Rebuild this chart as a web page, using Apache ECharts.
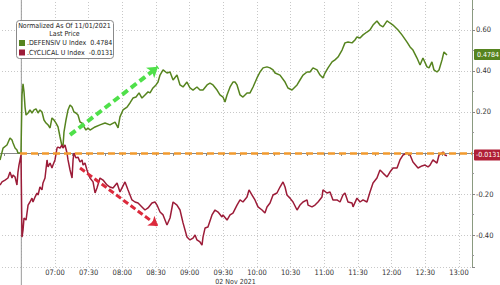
<!DOCTYPE html>
<html><head><meta charset="utf-8">
<script src="https://cdn.jsdelivr.net/npm/echarts@6/dist/echarts.min.js"></script>
<style>html,body{margin:0;padding:0;background:#fff}#c{width:500px;height:285px}</style>
</head><body><div id="c"></div>
<script>
// time in minutes after midnight (02 Nov 2021), values normalized
const defTimes = [371.0,373.7,377.2,379.9,381.7,382.6,384.4,386.1,387.0,388.8,389.7,390.6,391.5,392.4,393.3,394.2,396.0,397.7,399.5,401.3,403.1,404.9,406.6,408.4,410.2,412.0,413.8,415.6,417.3,419.1,420.9,422.7,424.5,426.2,427.1,428.0,429.8,431.6,433.4,435.2,436.9,438.7,440.5,442.3,444.1,445.9,447.6,449.4,451.2,455.7,460.1,464.6,469.0,473.5,475.3,476.2,477.9,480.6,484.2,486.8,489.5,492.2,494.9,497.5,500.2,502.9,504.7,507.3,510.0,511.8,513.6,516.3,519.8,522.5,525.2,528.7,531.4,534.1,537.6,540.3,543.0,546.5,549.2,551.9,555.5,558.1,560.8,564.4,567.0,569.7,571.5,573.3,576.0,578.6,580.4,582.2,584.9,587.5,591.1,593.8,596.5,600.0,602.7,605.4,608.9,611.6,614.3,616.1,620.5,625.0,627.6,631.2,635.7,638.3,641.0,644.6,647.2,649.9,653.5,656.2,658.8,660.6,663.3,666.9,669.5,672.2,675.8,678.4,681.1,684.7,687.3,689.1,691.8,694.5,698.0,700.7,703.4,706.9,709.6,712.3,715.9,718.5,721.2,725.7,729.2,733.7,736.4,739.0,742.6,745.3,747.9,751.5,753.3,755.9,757.7,760.4,762.2,764.9,766.6,769.3];
const defValues = [-0.034,0.024,0.039,0.073,0.063,0.049,0.024,0.015,0,0,0,0.283,0.337,0.298,0.224,0.185,0.195,0.210,0.195,0.210,0.215,0.195,0.210,0.200,0.161,0.146,0.137,0.122,0.171,0.161,0.146,0.127,0.078,0.034,0.029,0.102,0.161,0.210,0.234,0.224,0.200,0.195,0.185,0.151,0.146,0.127,0.112,0.122,0.112,0.127,0.137,0.146,0.137,0.151,0.132,0.122,0.176,0.210,0.224,0.244,0.268,0.273,0.293,0.268,0.283,0.298,0.293,0.317,0.332,0.346,0.380,0.405,0.390,0.395,0.356,0.380,0.332,0.322,0.346,0.317,0.307,0.322,0.307,0.307,0.332,0.341,0.332,0.307,0.283,0.273,0.249,0.283,0.322,0.346,0.346,0.332,0.283,0.273,0.293,0.293,0.322,0.366,0.395,0.415,0.420,0.415,0.405,0.390,0.380,0.346,0.317,0.307,0.332,0.356,0.380,0.395,0.395,0.415,0.405,0.380,0.366,0.390,0.415,0.444,0.454,0.468,0.502,0.537,0.541,0.537,0.551,0.566,0.561,0.576,0.590,0.600,0.624,0.644,0.624,0.615,0.644,0.634,0.624,0.600,0.576,0.541,0.517,0.502,0.463,0.429,0.463,0.420,0.415,0.444,0.405,0.395,0.405,0.454,0.493,0.478];
const cycTimes = [371.0,372.8,375.5,378.1,379.9,381.7,382.6,384.4,386.1,387.0,387.9,389.7,390.6,391.5,392.4,394.2,396.0,397.7,399.5,400.4,402.2,404.0,404.9,406.6,408.4,409.3,411.1,412.9,413.8,415.6,417.3,418.2,420.0,421.8,422.7,424.5,426.2,427.1,428.9,430.7,431.6,433.4,435.2,436.1,436.9,438.7,440.5,442.3,444.1,445.0,446.7,448.5,449.4,451.2,453.9,455.7,457.4,460.1,462.8,466.3,469.0,471.7,475.3,477.9,482.4,485.1,488.6,491.3,494.0,497.5,500.2,502.9,506.4,509.1,510.9,513.6,516.3,519.8,522.5,525.2,528.7,531.4,534.1,537.6,540.3,543.0,544.8,546.5,549.2,551.0,551.9,553.7,556.3,559.9,562.6,565.3,568.8,569.7,573.3,576.0,578.6,582.2,584.9,587.5,591.1,592.9,595.6,598.2,600.9,604.5,607.1,608.9,611.6,614.3,617.8,620.5,623.2,625.0,626.7,629.4,632.1,635.7,638.3,641.0,644.6,645.5,649.0,651.7,654.4,657.9,658.8,662.4,665.1,667.7,671.3,674.0,676.6,678.4,681.1,684.7,685.6,689.1,691.8,694.5,698.0,700.7,703.4,706.9,709.6,712.3,715.9,718.5,721.2,724.8,727.4,730.1,733.7,736.4,739.0,743.5,747.0,749.7,752.4,754.2,756.8,760.4,762.2,764.9,765.8,767.5,769.3];
const cycValues = [-0.156,-0.141,-0.132,-0.122,-0.093,-0.122,-0.107,-0.117,-0.156,-0.093,-0.059,-0.010,-0.410,-0.376,-0.317,-0.327,-0.254,-0.239,-0.220,-0.239,-0.215,-0.195,-0.205,-0.166,-0.180,-0.146,-0.122,-0.034,-0.068,-0.049,-0.073,-0.059,-0.034,0.024,0.029,0.024,0.039,0.024,0.039,0,-0.034,-0.083,-0.122,-0.034,0,-0.024,-0.020,-0.044,-0.034,-0.059,-0.049,-0.083,-0.098,-0.122,-0.141,-0.195,-0.171,-0.122,-0.132,-0.156,-0.166,-0.171,-0.146,-0.190,-0.141,-0.180,-0.229,-0.239,-0.244,-0.263,-0.278,-0.268,-0.244,-0.239,-0.254,-0.288,-0.302,-0.351,-0.317,-0.239,-0.254,-0.278,-0.341,-0.410,-0.424,-0.415,-0.400,-0.424,-0.434,-0.449,-0.410,-0.366,-0.361,-0.302,-0.278,-0.288,-0.312,-0.302,-0.327,-0.302,-0.293,-0.254,-0.229,-0.239,-0.215,-0.180,-0.205,-0.229,-0.263,-0.278,-0.293,-0.263,-0.244,-0.205,-0.195,-0.166,-0.141,-0.166,-0.205,-0.220,-0.239,-0.278,-0.254,-0.239,-0.229,-0.254,-0.263,-0.254,-0.239,-0.215,-0.180,-0.195,-0.190,-0.229,-0.229,-0.239,-0.205,-0.195,-0.239,-0.244,-0.263,-0.220,-0.239,-0.229,-0.239,-0.190,-0.146,-0.122,-0.083,-0.098,-0.117,-0.093,-0.073,-0.073,-0.034,-0.010,0,-0.010,-0.044,-0.073,-0.063,-0.059,-0.068,-0.059,-0.034,-0.049,-0.010,0,0.005,-0.010,-0.013];
const seriesNames = ['.DEFENSIV U Index', '.CYCLICAL U Index'];
const lastPrices = [0.4784, -0.0131];
const xTickLabels = ['07:00','07:30','08:00','08:30','09:00','09:30','10:00','10:30','11:00','11:30','12:00','12:30','13:00'];
const yTickLabels = ['-0.40','-0.20','0.20','0.40','0.60'];
const dayStart = 390;          // 06:30 session divider
const baseLevel = 0;           // normalization level
const greenArrow = [[433.4, 0.088], [511.8, 0.42]];
const redArrow = [[442.3, -0.073], [511.8, -0.356]];

const FONT = "'Liberation Sans Narrow','DejaVu Sans Condensed','Liberation Sans',sans-serif";
const GREEN = '#56841f', RED = '#9c1c38';
const pad = n => (n < 10 ? '0' : '') + n;
const fmtTime = v => { const m = Math.round(v); return pad(Math.floor(m / 60)) + ':' + pad(m % 60); };
const zip = (a, b) => a.map((t, i) => [t, b[i]]);

const chart = echarts.init(document.getElementById('c'), null, { renderer: 'svg' });
const X_MIN = 370.1, X_MAX = 791.6;
chart.setOption({
  animation: false,
  backgroundColor: '#fff',
  textStyle: { fontFamily: FONT },
  grid: { left: -1, right: 28, top: -1, bottom: 18, containLabel: false, outerBoundsMode: 'none' },
  title: {
    text: 'Normalized As Of 11/01/2021\nLast Price',
    left: 64.5, top: 22, textAlign: 'center', padding: 0, z: 10,
    textStyle: { fontSize: 7, fontWeight: 'normal', color: '#222', lineHeight: 8, fontFamily: FONT }
  },
  legend: {
    data: seriesNames, orient: 'vertical', left: 19, top: 39.5, padding: 0,
    itemWidth: 6, itemHeight: 6, itemGap: 2.5, icon: 'rect', z: 10,
    textStyle: { fontSize: 7, color: '#222', padding: [0, 0, 0, -3], fontFamily: FONT },
    formatter: name => name + '  ' + lastPrices[seriesNames.indexOf(name)].toFixed(4)
  },
  xAxis: {
    type: 'value', min: X_MIN, max: X_MAX, splitNumber: 14,
    name: '02 Nov 2021', nameLocation: 'middle', nameGap: 11, nameMoveOverlap: false,
    nameTextStyle: { fontSize: 7, color: '#333', fontFamily: FONT, verticalAlign: 'top', lineHeight: 7, padding: 0 },
    axisLine: { lineStyle: { color: '#888', width: 1 } },
    axisTick: { show: true, length: 3, lineStyle: { color: '#888' } },
    minorTick: { show: true, splitNumber: 2, length: 3, lineStyle: { color: '#888' } },
    axisLabel: {
      fontSize: 7.5, lineHeight: 7, color: '#333', margin: 2, showMinLabel: false, showMaxLabel: false,
      formatter: v => { const s = fmtTime(v); return (Math.abs(v - Math.round(v / 30) * 30) < 0.01 && xTickLabels.includes(s)) ? s : ''; }
    },
    splitLine: { show: true, lineStyle: { color: '#c8c8c8', type: [1, 2], width: 1 } }
  },
  yAxis: {
    type: 'value', position: 'right', min: -0.556, max: 0.751, splitNumber: 6,
    axisLine: { show: true, lineStyle: { color: '#8a9a80', width: 1 } },
    axisTick: { show: true, inside: false, length: 3, lineStyle: { color: '#888' } },
    minorTick: { show: true, splitNumber: 2, length: 2, lineStyle: { color: '#999' } },
    axisLabel: {
      fontSize: 7.5, color: '#333', margin: 4, showMinLabel: false, showMaxLabel: false,
      formatter: v => { const s = v.toFixed(2); return yTickLabels.includes(s) ? s : ''; }
    },
    splitLine: { show: true, lineStyle: { color: '#c8c8c8', type: [1, 2], width: 1 } }
  },
  series: [
    {
      name: seriesNames[0], type: 'line', data: zip(defTimes, defValues), showSymbol: false, symbol: 'none',
      lineStyle: { color: GREEN, width: 1.5 }, itemStyle: { color: GREEN }, z: 3,
      markLine: {
        silent: true, symbol: 'none', animation: false,
        lineStyle: { color: 'rgba(0,0,0,0)', width: 0 },
        label: { show: true, position: 'end', distance: 2, formatter: () => lastPrices[0].toFixed(4),
          color: '#fff', backgroundColor: GREEN, padding: [2, 3, 2, 3], fontSize: 7, borderRadius: 1, fontFamily: FONT },
        data: [{ yAxis: lastPrices[0] }]
      }
    },
    {
      name: seriesNames[1], type: 'line', data: zip(cycTimes, cycValues), showSymbol: false, symbol: 'none',
      lineStyle: { color: RED, width: 1.5 }, itemStyle: { color: RED }, z: 3,
      markLine: {
        silent: true, symbol: 'none', animation: false,
        lineStyle: { color: 'rgba(0,0,0,0)', width: 0 },
        label: { show: true, position: 'end', distance: 2, formatter: () => lastPrices[1].toFixed(4),
          color: '#fff', backgroundColor: '#b01e36', padding: [2, 2, 2, 2], fontSize: 7, borderRadius: 1, fontFamily: FONT },
        data: [{ yAxis: lastPrices[1] }]
      }
    },
    {
      name: 'base', type: 'line', data: [], z: 4,
      markLine: {
        silent: true, symbol: 'none', animation: false, label: { show: false },
        lineStyle: { color: '#f29a2e', width: 2.5, type: [7, 4] },
        data: [[{ coord: [dayStart - 1.2, baseLevel] }, { coord: [X_MAX, baseLevel] }]]
      }
    },
    {
      name: 'upArrow', type: 'line', data: [], z: 5,
      markLine: {
        silent: true, symbol: ['none', 'arrow'], symbolSize: 10, animation: false, label: { show: false },
        lineStyle: { color: '#4fe04a', width: 4, type: [7, 4] },
        data: [[{ coord: greenArrow[0] }, { coord: greenArrow[1] }]]
      }
    },
    {
      name: 'downArrow', type: 'line', data: [], z: 5,
      markLine: {
        silent: true, symbol: ['none', 'arrow'], symbolSize: 9, animation: false, label: { show: false },
        lineStyle: { color: '#dc2a3c', width: 3, type: [6, 3] },
        data: [[{ coord: redArrow[0] }, { coord: redArrow[1] }]]
      }
    }
  ],
  graphic: [
    { id: 'box', type: 'rect', left: 16, top: 20, z: 8,
      shape: { width: 97, height: 38, r: 3 },
      style: { fill: '#fff', stroke: '#8a8a8a', lineWidth: 1 } }
  ]
});
const px = chart.convertToPixel({ xAxisIndex: 0 }, dayStart);
chart.setOption({ graphic: [
  { id: 'box' },
  { id: 'divider', type: 'line', z: 1, silent: true,
    shape: { x1: px, y1: 0, x2: px, y2: 285 },
    style: { stroke: '#9a9a9a', lineWidth: 1 } }
]});
</script></body></html>
